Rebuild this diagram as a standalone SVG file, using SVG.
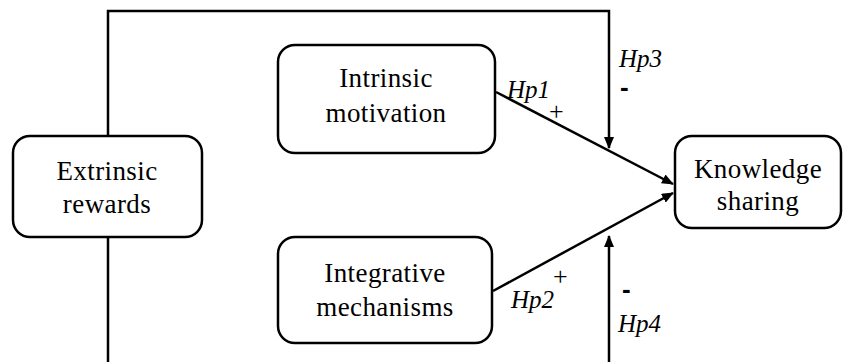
<svg xmlns="http://www.w3.org/2000/svg" width="853" height="362" viewBox="0 0 853 362">
<defs>
<marker id="ah" markerWidth="12" markerHeight="10" refX="11" refY="5" orient="auto" markerUnits="userSpaceOnUse">
<path d="M0,0 L12,5 L0,10 Z" fill="#000"/>
</marker>
<style>
.box{fill:#fff;stroke:#000;stroke-width:2.5}
.lbl{font-family:"Liberation Serif","Times New Roman",serif;font-size:27px;fill:#000;text-anchor:middle;letter-spacing:0.4px}
.hp{font-family:"Liberation Serif","Times New Roman",serif;font-size:25px;font-style:italic;fill:#000}
.sg{font-family:"Liberation Serif","Times New Roman",serif;font-size:26px;fill:#000}
.dash{font-family:"Liberation Sans",Arial,sans-serif;font-size:26px;font-weight:bold;fill:#000}
.ln{fill:none;stroke:#000;stroke-width:2.5}
</style>
</defs>
<rect width="853" height="362" fill="#fff"/>
<g id="connectors">
<path class="ln" d="M108,362 V11 H609 V148" marker-end="url(#ah)"/>
<path class="ln" d="M609,362 V236" marker-end="url(#ah)"/>
<path class="ln" d="M496,92 L673,184" marker-end="url(#ah)"/>
<path class="ln" d="M493,291 L673,193" marker-end="url(#ah)"/>
</g>
<g id="extrinsic">
<rect class="box" x="13" y="136" width="189" height="101" rx="17"/>
<text class="lbl" x="107" y="180">Extrinsic</text>
<text class="lbl" x="107" y="213">rewards</text>
</g>
<g id="intrinsic">
<rect class="box" x="278" y="45" width="217" height="108" rx="17"/>
<text class="lbl" x="386" y="87">Intrinsic</text>
<text class="lbl" x="386" y="122">motivation</text>
</g>
<g id="integrative">
<rect class="box" x="278" y="237" width="214" height="106" rx="17"/>
<text class="lbl" x="385" y="282">Integrative</text>
<text class="lbl" x="385" y="316">mechanisms</text>
</g>
<g id="knowledge">
<rect class="box" x="675" y="136" width="166" height="92" rx="17"/>
<text class="lbl" x="758" y="178">Knowledge</text>
<text class="lbl" x="758" y="210">sharing</text>
</g>
<g id="labels">
<text class="hp" x="507" y="98">Hp1</text>
<text class="sg" x="549" y="120">+</text>
<text class="hp" x="619" y="67">Hp3</text>
<text class="dash" x="620" y="96">-</text>
<text class="hp" x="511" y="308">Hp2</text>
<text class="sg" x="553" y="285">+</text>
<text class="dash" x="622" y="298">-</text>
<text class="hp" x="618" y="332">Hp4</text>
</g>
</svg>
